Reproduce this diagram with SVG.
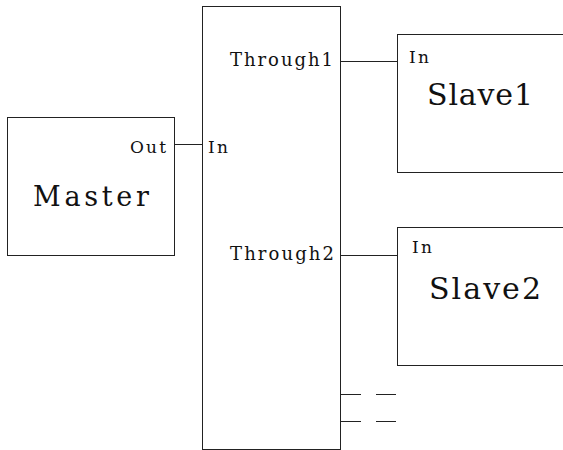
<svg xmlns="http://www.w3.org/2000/svg" width="563" height="450" viewBox="0 0 563 450">
<style>
.box{fill:#fff;stroke:#222;stroke-width:1}
.ln{fill:none;stroke:#222;stroke-width:1}
text{font-family:"DejaVu Serif","Liberation Serif",serif;fill:#111}
.s{font-size:17px}
.m{font-size:18px}
.l{font-size:30px}
</style>
<rect width="563" height="450" fill="#fff"/>
<g id="master">
<rect class="box" x="7.5" y="117.5" width="167" height="138"/>
<text class="s" x="130" y="153" textLength="36" lengthAdjust="spacing">Out</text>
<text class="l" x="33" y="206" textLength="116" lengthAdjust="spacing" style="font-size:27px">Master</text>
</g>
<g id="through">
<rect class="box" x="202.5" y="6.5" width="138" height="443"/>
<text class="s" x="208" y="153" textLength="20" lengthAdjust="spacing">In</text>
<text class="m" x="230" y="66" textLength="103" lengthAdjust="spacing">Through1</text>
<text class="m" x="230" y="260" textLength="104" lengthAdjust="spacing">Through2</text>
</g>
<g id="slave1">
<rect class="box" x="397.5" y="34.5" width="180" height="138"/>
<text class="s" x="409" y="63" textLength="20" lengthAdjust="spacing">In</text>
<text class="l" x="427" y="105" textLength="106" lengthAdjust="spacing">Slave1</text>
</g>
<g id="slave2">
<rect class="box" x="397.5" y="227.5" width="180" height="138"/>
<text class="s" x="412" y="253" textLength="20" lengthAdjust="spacing">In</text>
<text class="l" x="429" y="299" textLength="112" lengthAdjust="spacing">Slave2</text>
</g>
<g id="connectors">
<path class="ln" d="M175 144.5H202"/>
<path class="ln" d="M341 61.5H397"/>
<path class="ln" d="M341 255.5H397"/>
<path class="ln" d="M341 394.5H361M376 394.5H396"/>
<path class="ln" d="M341 421.5H361M376 421.5H396"/>
</g>
</svg>
